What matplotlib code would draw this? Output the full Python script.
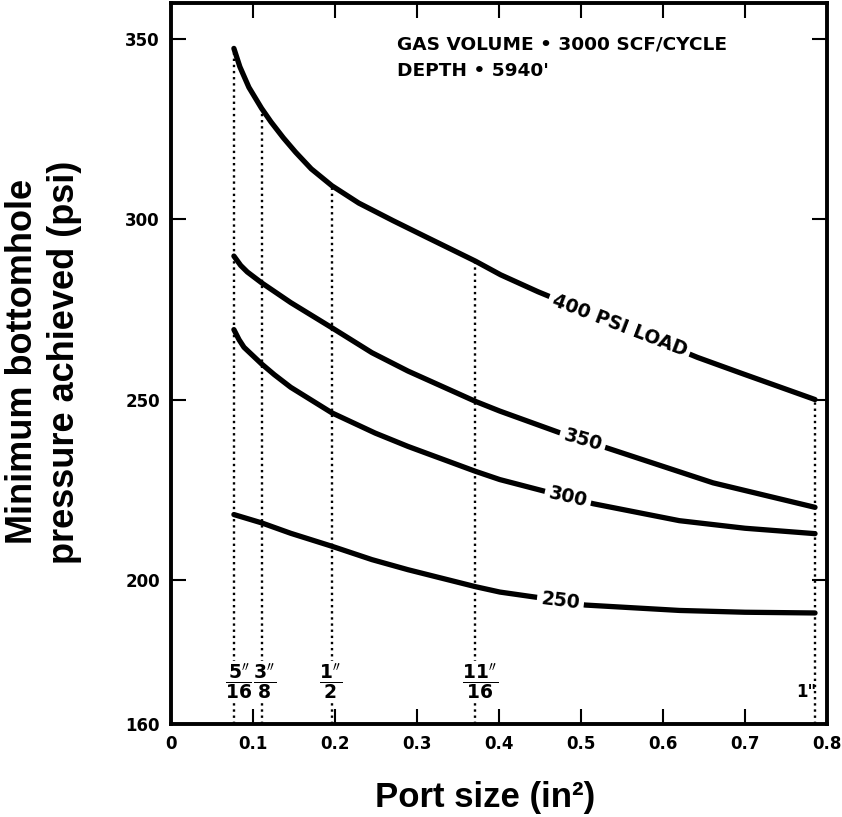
import numpy as np
import matplotlib
matplotlib.use("Agg")
import matplotlib.pyplot as plt

#%% data
# port areas (in^2) for 5/16", 3/8", 1/2", 11/16", 1" ports
port_area = [0.0767, 0.1104, 0.1963, 0.3712, 0.7854]
port_num = ["5", "3", "1", "11", "1"]
port_den = ["16", "8", "2", "16", ""]

x400 = [0.0767, 0.084, 0.095, 0.1104, 0.122, 0.137, 0.152, 0.171, 0.1963,
        0.229, 0.271, 0.312, 0.3712, 0.402, 0.4476, 0.547, 0.642, 0.693, 0.7854]
y400 = [347.4, 342.3, 336.6, 330.8, 327.0, 322.6, 318.6, 314.0, 309.3,
        304.5, 299.6, 295.0, 288.4, 284.6, 279.9, 270.6, 261.7, 257.5, 250.0]

x350 = [0.0767, 0.085, 0.093, 0.1104, 0.146, 0.1963, 0.245, 0.289, 0.3712,
        0.401, 0.474, 0.502, 0.53, 0.661, 0.7854]
y350 = [289.8, 287.2, 285.4, 282.4, 276.9, 269.9, 263.0, 257.9, 249.5,
        246.8, 240.8, 238.8, 236.7, 226.9, 220.1]

x300 = [0.0767, 0.083, 0.089, 0.1104, 0.126, 0.146, 0.1963, 0.249, 0.289,
        0.3712, 0.401, 0.45, 0.484, 0.515, 0.62, 0.70, 0.7854]
y300 = [269.4, 266.6, 264.5, 259.9, 256.9, 253.4, 246.3, 240.7, 237.0,
        230.1, 227.8, 224.9, 222.9, 221.1, 216.4, 214.3, 212.8]

x250 = [0.0767, 0.1104, 0.146, 0.1963, 0.245, 0.289, 0.3712, 0.401, 0.438,
        0.475, 0.505, 0.62, 0.70, 0.7854]
y250 = [218.1, 215.8, 212.9, 209.3, 205.6, 202.8, 198.1, 196.6, 195.4,
        194.2, 193.0, 191.5, 191.0, 190.8]

curve_labels = ["400 PSI LOAD", "350", "300", "250"]

xticks = [0, 0.1, 0.2, 0.3, 0.4, 0.5, 0.6, 0.7, 0.8]
xticklabels = ["0", "0.1", "0.2", "0.3", "0.4", "0.5", "0.6", "0.7", "0.8"]
yticks = [160, 200, 250, 300, 350]

#%% figure
fig = plt.figure(figsize=(8.42, 8.17), dpi=100)
ax = fig.add_axes([171/842, 1 - 724/817, 656/842, 721/817])
ax.set_xlim(0, 0.8)
ax.set_ylim(160, 360)

for xs, ys in [(x400, y400), (x350, y350), (x300, y300), (x250, y250)]:
    ax.plot(xs, ys, color='black', lw=3.8, solid_capstyle='round',
            solid_joinstyle='round', zorder=3)

# dotted drop lines from the top curve down to the axis
for xa in port_area:
    top = np.interp(xa, x400, y400)
    ax.plot([xa, xa], [160, top], color='black', lw=1.7,
            linestyle=(0, (1.0, 1.6)), zorder=2)

# fraction labels of the port diameters
offs = [4, 2, -1, 3, -6]
tkw = dict(fontweight='bold', family='DejaVu Sans', ha='center', zorder=5)
for xa, n, d, dx in zip(port_area, port_num, port_den, offs):
    if d:
        s = r"$\dfrac{\mathbf{%s}^{\prime\prime}}{\mathbf{%s}}$" % (n, d)
        ax.annotate(s, xy=(xa, 171.8), xytext=(dx, 0), textcoords='offset points',
                    va='center', fontsize=13.5,
                    bbox=dict(fc='white', ec='none', pad=0.5), **tkw)
    else:
        ax.annotate(n + '"', xy=(xa, 169.0), xytext=(dx, 0),
                    textcoords='offset points', va='center', fontsize=12, **tkw)

# curve labels
lab_pos = [(0.547, 270.6, -21), (0.502, 238.8, -16), (0.484, 222.9, -13),
           (0.475, 194.2, -7)]
for txt, (lx, ly, rot) in zip(curve_labels, lab_pos):
    ax.text(lx, ly, txt, rotation=rot, rotation_mode='anchor', ha='center',
            va='center', fontsize=13.5, fontweight='bold', family='DejaVu Sans',
            bbox=dict(fc='white', ec='none', pad=3), zorder=4)

ax.text(0.2756, 348.6, u"GAS VOLUME \u2022 3000 SCF/CYCLE", fontsize=13.3,
        fontweight='bold', family='DejaVu Sans', va='center', ha='left')
ax.text(0.2756, 341.1, u"DEPTH \u2022 5940'", fontsize=13.3,
        fontweight='bold', family='DejaVu Sans', va='center', ha='left')

ax.set_xticks(xticks)
ax.set_xticklabels(xticklabels)
ax.set_yticks(yticks)
ax.tick_params(direction='in', length=11, width=1.5, top=True, right=True,
               labelsize=12, pad=8)
for lab in ax.get_xticklabels() + ax.get_yticklabels():
    lab.set_fontweight('bold')
    lab.set_family('DejaVu Sans')
for sp in ax.spines.values():
    sp.set_linewidth(2.8)

fig.text(0.052, 0.557, "Minimum bottomhole\npressure achieved (psi)",
         rotation=90, ha='center', va='center', fontsize=26,
         fontweight='bold', family='Liberation Sans', linespacing=1.25,
         multialignment='center')
fig.text(485/842, 0.012, u"Port size (in\u00b2)", ha='center', va='baseline',
         fontsize=25, fontweight='bold', family='Liberation Sans')

fig.savefig("out.png", dpi=100)
